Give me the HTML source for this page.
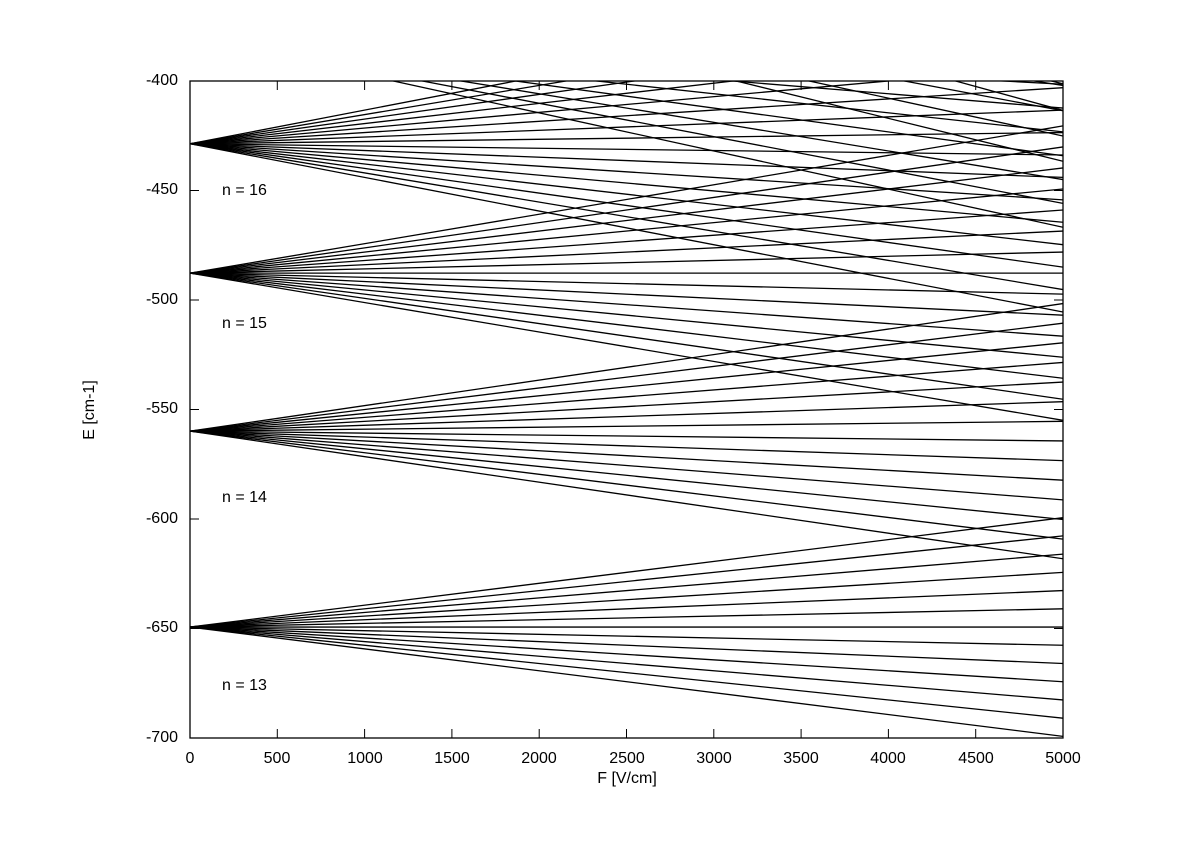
<!DOCTYPE html>
<html><head><meta charset="utf-8">
<style>
html,body{margin:0;padding:0;background:#fff;width:1200px;height:848px;overflow:hidden;}
body{position:relative;font-family:"Liberation Sans",sans-serif;}
.t{position:absolute;font-size:16px;line-height:18px;color:#000;white-space:nowrap;}
.yl{right:1022px;text-align:right;}
.xl{transform:translateX(-50%);}
</style></head><body>
<svg id="s" width="1200" height="848" style="position:absolute;left:0;top:0">
<defs><clipPath id="c"><rect x="190" y="81" width="873" height="657"/></clipPath></defs>
<g id="lines" clip-path="url(#c)" stroke="#000" stroke-width="1.3" fill="none"></g>
<g id="ticks" stroke="#000" stroke-width="1"></g>
<rect x="190" y="81" width="873" height="657" fill="none" stroke="#000" stroke-width="1.3"/>
</svg>
<div class="t yl" style="top:72px">-400</div>
<div class="t yl" style="top:181px">-450</div>
<div class="t yl" style="top:291px">-500</div>
<div class="t yl" style="top:400px">-550</div>
<div class="t yl" style="top:510px">-600</div>
<div class="t yl" style="top:619px">-650</div>
<div class="t yl" style="top:729px">-700</div>
<div class="t xl" style="left:190px;top:750px">0</div>
<div class="t xl" style="left:277px;top:750px">500</div>
<div class="t xl" style="left:365px;top:750px">1000</div>
<div class="t xl" style="left:452px;top:750px">1500</div>
<div class="t xl" style="left:539px;top:750px">2000</div>
<div class="t xl" style="left:627px;top:750px">2500</div>
<div class="t xl" style="left:714px;top:750px">3000</div>
<div class="t xl" style="left:801px;top:750px">3500</div>
<div class="t xl" style="left:888px;top:750px">4000</div>
<div class="t xl" style="left:976px;top:750px">4500</div>
<div class="t xl" style="left:1063px;top:750px">5000</div>
<div class="t xl" style="left:627px;top:770px">F [V/cm]</div>
<div class="t" style="left:55px;top:401px;height:18px;transform:rotate(-90deg);transform-origin:center;width:70px;text-align:center">E [cm-1]</div>
<div class="t" style="left:222px;top:182px">n = 16</div>
<div class="t" style="left:222px;top:315px">n = 15</div>
<div class="t" style="left:222px;top:489px">n = 14</div>
<div class="t" style="left:222px;top:677px">n = 13</div>
<script>
var NS="http://www.w3.org/2000/svg";
function py(E){return 81+(-400-E)*657/300;}
var g=document.getElementById("lines");
for(var n=12;n<=20;n++){
  var E0=-109737/(n*n);
  for(var k=-(n-1);k<=n-1;k+=2){
    var E1=E0+0.3201*n*k;
    var l=document.createElementNS(NS,"line");
    l.setAttribute("x1",190);l.setAttribute("y1",py(E0).toFixed(2));
    l.setAttribute("x2",1063);l.setAttribute("y2",py(E1).toFixed(2));
    g.appendChild(l);
  }
}
var t=document.getElementById("ticks");
function ln(a,b,c,d){var l=document.createElementNS(NS,"line");l.setAttribute("x1",a);l.setAttribute("y1",b);l.setAttribute("x2",c);l.setAttribute("y2",d);t.appendChild(l);}
for(var i=0;i<=6;i++){var y=81+i*657/6;ln(190,y,199,y);ln(1063,y,1054,y);}
for(var i=0;i<=10;i++){var x=190+i*87.3;ln(x,738,x,729);ln(x,81,x,90);}
</script>
</body></html>
